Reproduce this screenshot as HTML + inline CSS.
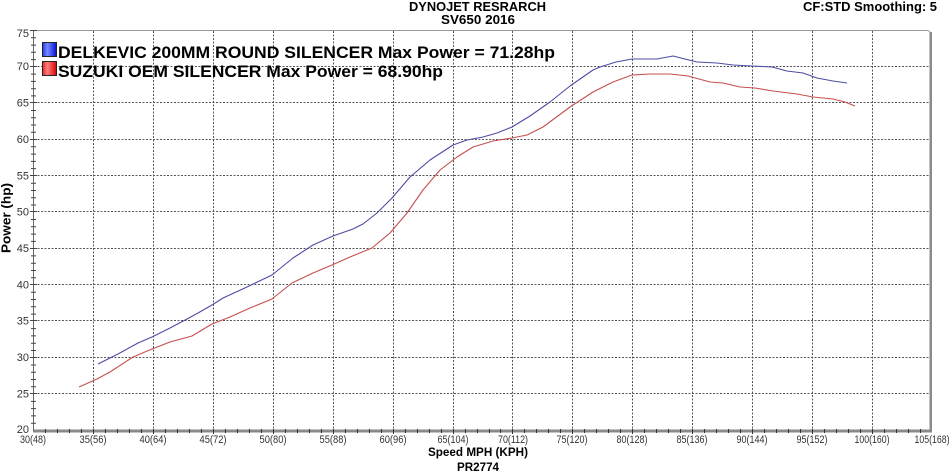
<!DOCTYPE html>
<html><head><meta charset="utf-8"><style>
html,body{margin:0;padding:0;background:#fff;}
svg{display:block;}
text{font-family:"Liberation Sans",Arial,sans-serif;}
</style></head><body>
<svg width="950" height="472" viewBox="0 0 950 472" xmlns="http://www.w3.org/2000/svg">
<defs>
<linearGradient id="gb" x1="0" x2="1" y1="0" y2="0"><stop offset="0" stop-color="#2038f0"/><stop offset="0.35" stop-color="#7a88ff"/><stop offset="1" stop-color="#0010d8"/></linearGradient>
<linearGradient id="gr" x1="0" x2="1" y1="0" y2="0"><stop offset="0" stop-color="#f02020"/><stop offset="0.35" stop-color="#ff8080"/><stop offset="1" stop-color="#d80000"/></linearGradient>
</defs>
<!-- titles -->
<text x="477.5" y="11" text-anchor="middle" font-size="12.5" font-weight="bold" textLength="137" lengthAdjust="spacingAndGlyphs">DYNOJET RESRARCH</text>
<text x="478" y="24" text-anchor="middle" font-size="12.5" font-weight="bold" textLength="74" lengthAdjust="spacingAndGlyphs">SV650 2016</text>
<text x="803" y="11" font-size="12.5" font-weight="bold" textLength="134" lengthAdjust="spacingAndGlyphs">CF:STD Smoothing: 5</text>
<!-- grid -->
<g stroke="#555" stroke-width="1" stroke-dasharray="2,1.5" fill="none">
<path d="M93.5 31V430M153.5 31V430M213.5 31V430M273.5 31V430M333.5 31V430M393.5 31V430M453.5 31V430M512.5 31V430M572.5 31V430M632.5 31V430M692.5 31V430M752.5 31V430M812.5 31V430M872.5 31V430"/>
<path d="M34 66.5H930M34 102.5H930M34 139.5H930M34 175.5H930M34 211.5H930M34 248.5H930M34 284.5H930M34 320.5H930M34 357.5H930M34 393.5H930"/>
</g>
<!-- frame -->
<path d="M33.5 430V30.5H927q3 0 3.5 3V430" fill="none" stroke="#9a9a9a" stroke-width="1"/>
<rect x="929.5" y="32" width="2.5" height="400" fill="#8a8a8a"/>
<rect x="33" y="429.5" width="899" height="3" fill="#8a8a8a"/>
<path d="M33.5 30V431" stroke="#666" stroke-width="1"/>
<!-- left ticks -->
<g stroke="#444" stroke-width="1">
<path d="M30 30.5H37M31 37.8H36M31 45.1H36M31 52.3H36M31 59.6H36M30 66.5H37M31 74.1H36M31 81.4H36M31 88.7H36M31 95.9H36M30 102.5H37M31 110.5H36M31 117.7H36M31 125H36M31 132.3H36M30 139.5H37M31 146.8H36M31 154.1H36M31 161.4H36M31 168.6H36M30 175.5H37M31 183.2H36M31 190.5H36M31 197.7H36M31 205H36M30 211.5H37M31 219.5H36M31 226.8H36M31 234.1H36M31 241.4H36M30 248.5H37M31 255.9H36M31 263.2H36M31 270.5H36M31 277.7H36M30 284.5H37M31 292.3H36M31 299.5H36M31 306.8H36M31 314.1H36M30 320.5H37M31 328.6H36M31 335.9H36M31 343.2H36M31 350.5H36M30 357.5H37M31 365H36M31 372.3H36M31 379.5H36M31 386.8H36M30 393.5H37M31 401.4H36M31 408.6H36M31 415.9H36M31 423.2H36"/>
</g>
<!-- bottom ticks -->
<path stroke="#333" stroke-width="1" d="M45.5 429V433M57.5 429V433M69.5 429V433M81.5 429V433M105.5 429V433M117.5 429V433M129.5 429V433M141.5 429V433M165.5 429V433M177.5 429V433M189.5 429V433M201.5 429V433M225.5 429V433M237.5 429V433M249.5 429V433M261.5 429V433M285.5 429V433M297.5 429V433M309.5 429V433M321.5 429V433M345.5 429V433M357.5 429V433M369.5 429V433M381.5 429V433M405.5 429V433M417.5 429V433M429.5 429V433M441.5 429V433M465.5 429V433M477.5 429V433M489.5 429V433M500.5 429V433M524.5 429V433M536.5 429V433M548.5 429V433M560.5 429V433M584.5 429V433M596.5 429V433M608.5 429V433M620.5 429V433M644.5 429V433M656.5 429V433M668.5 429V433M680.5 429V433M704.5 429V433M716.5 429V433M728.5 429V433M740.5 429V433M764.5 429V433M776.5 429V433M788.5 429V433M800.5 429V433M824.5 429V433M836.5 429V433M848.5 429V433M860.5 429V433M884.5 429V433M896.5 429V433M908.5 429V433M920.5 429V433M93.5 429V434M153.5 429V434M213.5 429V434M273.5 429V434M333.5 429V434M393.5 429V434M453.5 429V434M512.5 429V434M572.5 429V434M632.5 429V434M692.5 429V434M752.5 429V434M812.5 429V434M872.5 429V434"/>
<!-- y labels -->
<g font-size="11" fill="#333" text-anchor="end">
<text x="29" y="37">75</text><text x="29" y="70">70</text><text x="29" y="106.5">65</text><text x="29" y="143">60</text><text x="29" y="179.5">55</text><text x="29" y="215.5">50</text><text x="29" y="252">45</text><text x="29" y="288.5">40</text><text x="29" y="324.5">35</text><text x="29" y="361">30</text><text x="29" y="397.5">25</text><text x="29" y="433">20</text>
</g>
<!-- x labels -->
<g font-size="11" fill="#333" text-anchor="middle" lengthAdjust="spacingAndGlyphs">
<text x="33" y="443" textLength="26" lengthAdjust="spacingAndGlyphs">30(48)</text>
<text x="93" y="443" textLength="27" lengthAdjust="spacingAndGlyphs">35(56)</text>
<text x="153" y="443" textLength="27" lengthAdjust="spacingAndGlyphs">40(64)</text>
<text x="213" y="443" textLength="27" lengthAdjust="spacingAndGlyphs">45(72)</text>
<text x="273" y="443" textLength="27" lengthAdjust="spacingAndGlyphs">50(80)</text>
<text x="333" y="443" textLength="27" lengthAdjust="spacingAndGlyphs">55(88)</text>
<text x="393" y="443" textLength="27" lengthAdjust="spacingAndGlyphs">60(96)</text>
<text x="453" y="443" textLength="31" lengthAdjust="spacingAndGlyphs">65(104)</text>
<text x="513" y="443" textLength="30" lengthAdjust="spacingAndGlyphs">70(112)</text>
<text x="572" y="443" textLength="31" lengthAdjust="spacingAndGlyphs">75(120)</text>
<text x="632" y="443" textLength="31" lengthAdjust="spacingAndGlyphs">80(128)</text>
<text x="692" y="443" textLength="31" lengthAdjust="spacingAndGlyphs">85(136)</text>
<text x="752" y="443" textLength="31" lengthAdjust="spacingAndGlyphs">90(144)</text>
<text x="812" y="443" textLength="31" lengthAdjust="spacingAndGlyphs">95(152)</text>
<text x="872" y="443" textLength="35" lengthAdjust="spacingAndGlyphs">100(160)</text>
<text x="932" y="443" textLength="35" lengthAdjust="spacingAndGlyphs">105(168)</text>
</g>
<text x="478" y="456" text-anchor="middle" font-size="12" font-weight="bold" textLength="100" lengthAdjust="spacingAndGlyphs">Speed MPH (KPH)</text>
<text x="478" y="471" text-anchor="middle" font-size="12" font-weight="bold" textLength="42" lengthAdjust="spacingAndGlyphs">PR2774</text>
<text transform="translate(10.5,218) rotate(-90)" text-anchor="middle" font-size="13" font-weight="bold" textLength="70" lengthAdjust="spacingAndGlyphs">Power (hp)</text>
<!-- legend -->
<rect x="42.5" y="42.5" width="14" height="14" fill="url(#gb)" stroke="#222" stroke-width="1"/>
<rect x="42.5" y="61.5" width="14" height="14" fill="url(#gr)" stroke="#222" stroke-width="1"/>
<text x="58" y="58" font-size="17" font-weight="bold" textLength="497" lengthAdjust="spacingAndGlyphs">DELKEVIC 200MM ROUND SILENCER Max Power = 71.28hp</text>
<text x="58" y="77" font-size="17" font-weight="bold" textLength="385" lengthAdjust="spacingAndGlyphs">SUZUKI OEM SILENCER Max Power = 68.90hp</text>
<!-- curves -->
<polyline fill="none" stroke="#4c4ca4" stroke-width="1.1" stroke-linejoin="round" points="98,364 118,354 138,343 152,337 170,328 187,319 198,313 212,305 223,298 247,287 272,275 293,258 313,245 333,236 353,229 363,224 377,213 392,198 410,177 430,160 453,145 467,140 483,137 497,133 512,127 530,116 550,102 570,86 593,70 600,67 616,62 632,59 657,59 673,56 697,62 717,63 733,65 752,66 772,67 787,71 803,73 817,78 833,81 847,83"/>
<polyline fill="none" stroke="#c4504f" stroke-width="1.1" stroke-linejoin="round" points="79,387 97,379 110,372 133,357 152,349 170,342 192,336 212,324 230,317 250,308 272,299 292,283 313,273 332,265 350,257 372,248 390,233 407,213 423,190 440,170 457,157 473,147 493,141 512,138 527,135 543,127 570,107 593,92 613,82 632,75 650,74 670,74 688,76 710,82 723,83 740,87 755,88 773,91 797,94 813,97 833,99 845,102 855,106"/>
</svg>
</body></html>
